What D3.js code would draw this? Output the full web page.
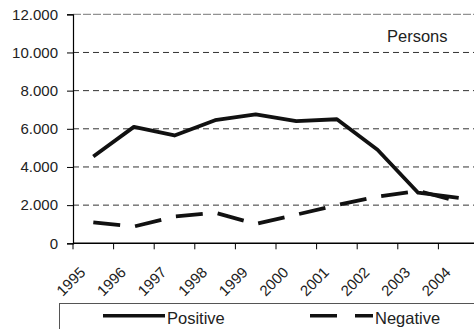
<!DOCTYPE html>
<html>
<head>
<meta charset="utf-8">
<script src="https://cdn.jsdelivr.net/npm/d3@7"></script>
<style>
  html, body { margin: 0; padding: 0; background: #fff; }
  svg { display: block; font-family: "Liberation Sans", Arial, sans-serif; }
</style>
</head>
<body>
<svg id="chart" width="474" height="329"></svg>
<script>
// Yearly counts of persons, by outcome
const years = ["1995", "1996", "1997", "1998", "1999", "2000", "2001", "2002", "2003", "2004"];
const positive = [4550, 6100, 5650, 6450, 6750, 6400, 6500, 4900, 2650, 2380];
const negative = [1100, 880, 1400, 1600, 1020, 1500, 2000, 2450, 2750, 2180];
const yTicks = [0, 2000, 4000, 6000, 8000, 10000, 12000];
const seriesNames = ["Positive", "Negative"];
const unitLabel = "Persons";

const svg = d3.select("#chart");

const plotLeft = 73, plotRight = 479, plotTop = 14.3, plotBottom = 243.3;

const x = d3.scaleBand().domain(years).range([plotLeft, plotRight]).padding(0);
const y = d3.scaleLinear().domain([0, 12000]).range([plotBottom, plotTop]);

const fmt = d3.formatLocale({ decimal: ",", thousands: ".", grouping: [3], currency: ["", ""] }).format(",");

// horizontal gridlines
svg.append("g")
  .selectAll("line")
  .data(yTicks.filter(d => d > 0))
  .join("line")
  .attr("x1", plotLeft).attr("x2", 474)
  .attr("y1", d => y(d)).attr("y2", d => y(d))
  .attr("stroke", d => d === 12000 ? "#777" : "#333")
  .attr("stroke-width", 1)
  .attr("stroke-dasharray", d => d === 12000 ? "8,2" : "6,4");

// y axis
const yAxis = svg.append("g")
  .attr("transform", `translate(${plotLeft},0)`)
  .call(d3.axisLeft(y).tickValues(yTicks).tickFormat(fmt).tickSize(6).tickPadding(9));
yAxis.select(".domain").attr("stroke", "#000").attr("stroke-width", 1.2);
yAxis.selectAll(".tick line").attr("stroke", "#000");
yAxis.selectAll("text").attr("font-size", 15).attr("fill", "#222")
  .attr("font-family", "'Liberation Sans', Arial, sans-serif");

// x axis with rotated year labels
const xAxis = svg.append("g")
  .attr("transform", `translate(0,${plotBottom})`)
  .call(d3.axisBottom(x).tickSize(0).tickPadding(0));
xAxis.select(".domain").remove();
xAxis.selectAll(".tick text")
  .attr("font-size", 15).attr("fill", "#222")
  .attr("font-family", "'Liberation Sans', Arial, sans-serif")
  .attr("text-anchor", "end")
  .attr("y", 0).attr("dy", 0)
  .attr("transform", "translate(-7,30) rotate(-45)");

// x baseline and category boundary ticks
svg.append("line")
  .attr("x1", plotLeft).attr("x2", 474)
  .attr("y1", plotBottom).attr("y2", plotBottom)
  .attr("stroke", "#000").attr("stroke-width", 1.5);
const edges = years.map(d => x(d)).concat([x(years[years.length - 1]) + x.bandwidth()]);
svg.append("g")
  .selectAll("line")
  .data(edges)
  .join("line")
  .attr("x1", d => d).attr("x2", d => d)
  .attr("y1", plotBottom).attr("y2", plotBottom + 6)
  .attr("stroke", "#000").attr("stroke-width", 1);

// series lines
const line = d3.line()
  .x((d, i) => x(years[i]) + x.bandwidth() / 2)
  .y(d => y(d));

svg.append("path")
  .datum(negative)
  .attr("d", line)
  .attr("fill", "none")
  .attr("stroke", "#111")
  .attr("stroke-width", 3.8)
  .attr("stroke-dasharray", "27,15");

svg.append("path")
  .datum(positive)
  .attr("d", line)
  .attr("fill", "none")
  .attr("stroke", "#111")
  .attr("stroke-width", 3.8)
  .attr("stroke-linejoin", "round");

// unit label
svg.append("text")
  .attr("x", 387).attr("y", 41.5)
  .attr("font-size", 16.5).attr("fill", "#222")
  .text(unitLabel);

// legend
const legend = svg.append("g");
legend.append("rect")
  .attr("x", 59.5).attr("y", 303.5)
  .attr("width", 430).attr("height", 40)
  .attr("fill", "none").attr("stroke", "#555").attr("stroke-width", 1);

const legendItems = [
  { name: seriesNames[0], x1: 103, x2: 165, dash: null },
  { name: seriesNames[1], x1: 310, x2: 373, dash: "27,18" }
];
legendItems.forEach(it => {
  legend.append("line")
    .attr("x1", it.x1).attr("x2", it.x2)
    .attr("y1", 315.7).attr("y2", 315.7)
    .attr("stroke", "#111").attr("stroke-width", 3.5)
    .attr("stroke-dasharray", it.dash);
  legend.append("text")
    .attr("x", it.x2 + 2).attr("y", 324)
    .attr("font-size", 16.5).attr("fill", "#222")
    .text(it.name);
});
</script>
</body>
</html>
